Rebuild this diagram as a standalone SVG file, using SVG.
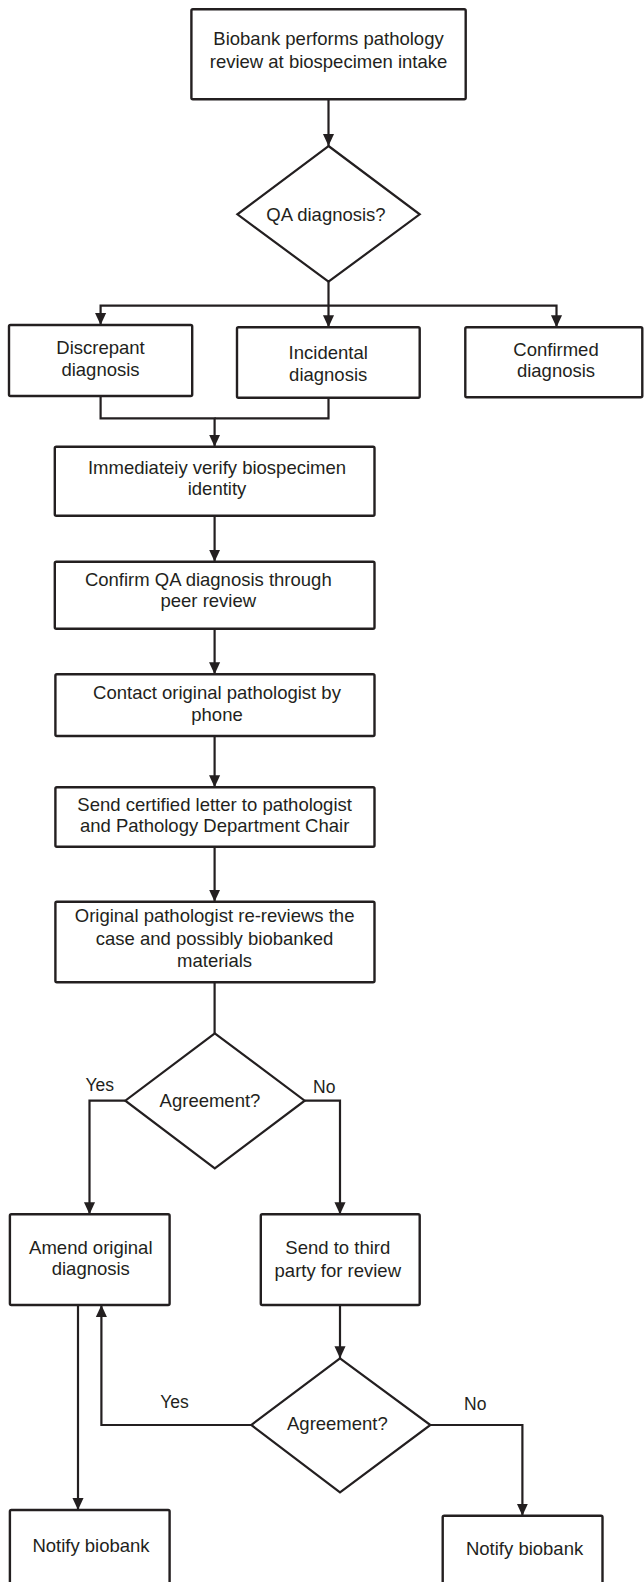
<svg xmlns="http://www.w3.org/2000/svg" width="644" height="1582" viewBox="0 0 644 1582">
<style>
.box{fill:#fff;stroke:#231f20;stroke-width:2.4}
.dia{fill:#fff;stroke:#231f20;stroke-width:2.2}
.t{font-family:"Liberation Sans",Arial,sans-serif;font-size:18.5px;fill:#231f20;text-anchor:middle}
.lbl{font-family:"Liberation Sans",Arial,sans-serif;font-size:17.5px;fill:#231f20}
.c{fill:none;stroke:#231f20;stroke-width:2.2}
.a{marker-end:url(#ah)}
</style>
<defs>
<marker id="ah" markerUnits="userSpaceOnUse" markerWidth="12" markerHeight="13" viewBox="0 0 13 12" refX="13" refY="6" orient="auto">
<path d="M0,0 L13,6 L0,12 z" fill="#231f20"/>
</marker>
</defs>
<rect width="644" height="1582" fill="#fff"/>
<g id="connectors">
<path class="c a" d="M328.5,99.3 V146"/>
<path class="c a" d="M328.5,281.7 V327.3"/>
<path class="c a" d="M328.5,305.7 H100.6 V325"/>
<path class="c a" d="M328.5,305.7 H556.5 V327.3"/>
<path class="c a" d="M100.6,396 V418.3 H214.6 V446.7"/>
<path class="c" d="M328.5,397.7 V418.3 H214.6"/>
<path class="c a" d="M214.6,515.7 V561.7"/>
<path class="c a" d="M214.6,628.7 V674.3"/>
<path class="c a" d="M214.6,736 V787.3"/>
<path class="c a" d="M214.6,846.7 V901.7"/>
<path class="c" d="M214.6,982.3 V1033.3"/>
<path class="c a" d="M125.3,1100.7 H89.5 V1214.3"/>
<path class="c a" d="M304.7,1100.7 H340 V1214.3"/>
<path class="c a" d="M78,1305 V1510"/>
<path class="c a" d="M340,1305 V1358.3"/>
<path class="c a" d="M251.3,1425 H101.4 V1305"/>
<path class="c a" d="M430.4,1425 H522.4 V1515.7"/>
<text class="lbl" x="85.4" y="1091">Yes</text>
<text class="lbl" x="313" y="1092.7">No</text>
<text class="lbl" x="160.2" y="1408.3">Yes</text>
<text class="lbl" x="464" y="1410">No</text>
</g>
<g id="n-intake">
<rect class="box" x="191.4" y="9.3" width="274.3" height="90" rx="1.5"/>
<text class="t"><tspan x="328.5" y="45">Biobank performs pathology</tspan><tspan x="328.5" y="67.7">review at biospecimen intake</tspan></text>
</g>
<g id="n-qa">
<polygon class="dia" points="328.5,146 419.7,214.3 328.5,281.7 237.4,214.3"/>
<text class="t" x="326" y="221">QA diagnosis?</text>
</g>
<g id="n-discrepant">
<rect class="box" x="9" y="325" width="183.2" height="71" rx="1.5"/>
<text class="t"><tspan x="100.5" y="354.3">Discrepant</tspan><tspan x="100.5" y="375.7">diagnosis</tspan></text>
</g>
<g id="n-incidental">
<rect class="box" x="237" y="327.3" width="182.7" height="70.4" rx="1.5"/>
<text class="t"><tspan x="328.2" y="359">Incidental</tspan><tspan x="328.2" y="380.7">diagnosis</tspan></text>
</g>
<g id="n-confirmed">
<rect class="box" x="465.3" y="327.3" width="177" height="70" rx="1.5"/>
<text class="t"><tspan x="556" y="355.8">Confirmed</tspan><tspan x="556" y="377.4">diagnosis</tspan></text>
</g>
<g id="n-verify">
<rect class="box" x="54.8" y="446.7" width="319.7" height="69" rx="1.5"/>
<text class="t"><tspan x="217" y="474.3">Immediateiy verify biospecimen</tspan><tspan x="217" y="495">identity</tspan></text>
</g>
<g id="n-peer">
<rect class="box" x="54.8" y="561.7" width="319.7" height="67" rx="1.5"/>
<text class="t"><tspan x="208.3" y="585.7">Confirm QA diagnosis through</tspan><tspan x="208.3" y="607">peer review</tspan></text>
</g>
<g id="n-contact">
<rect class="box" x="55.4" y="674.3" width="319.1" height="61.7" rx="1.5"/>
<text class="t"><tspan x="217" y="699">Contact original pathologist by</tspan><tspan x="217" y="720.7">phone</tspan></text>
</g>
<g id="n-letter">
<rect class="box" x="55.4" y="787.3" width="319.1" height="59.4" rx="1.5"/>
<text class="t"><tspan x="214.6" y="811">Send certified letter to pathologist</tspan><tspan x="214.6" y="832.3">and Pathology Department Chair</tspan></text>
</g>
<g id="n-rereview">
<rect class="box" x="55.4" y="901.7" width="319.1" height="80.6" rx="1.5"/>
<text class="t"><tspan x="214.6" y="922.3">Original pathologist re-reviews the</tspan><tspan x="214.6" y="945">case and possibly biobanked</tspan><tspan x="214.6" y="966.7">materials</tspan></text>
</g>
<g id="n-agree1">
<polygon class="dia" points="214.8,1033.3 304.7,1100.7 214.8,1168.3 125.3,1100.7"/>
<text class="t" x="210" y="1107.3">Agreement?</text>
</g>
<g id="n-amend">
<rect class="box" x="9.9" y="1214.3" width="159.7" height="90.7" rx="1.5"/>
<text class="t"><tspan x="90.8" y="1254.3">Amend original</tspan><tspan x="90.8" y="1275">diagnosis</tspan></text>
</g>
<g id="n-third">
<rect class="box" x="260.8" y="1214.3" width="158.9" height="90.7" rx="1.5"/>
<text class="t"><tspan x="337.8" y="1254.3">Send to third</tspan><tspan x="337.8" y="1276.7">party for review</tspan></text>
</g>
<g id="n-agree2">
<polygon class="dia" points="340,1358.3 430.4,1425 340,1492.3 251.3,1425"/>
<text class="t" x="337.4" y="1430">Agreement?</text>
</g>
<g id="n-notify1">
<rect class="box" x="9.9" y="1510" width="159.7" height="90" rx="1.5"/>
<text class="t" x="91" y="1551.7">Notify biobank</text>
</g>
<g id="n-notify2">
<rect class="box" x="442.7" y="1515.7" width="159.8" height="90" rx="1.5"/>
<text class="t" x="524.6" y="1555">Notify biobank</text>
</g>
</svg>
